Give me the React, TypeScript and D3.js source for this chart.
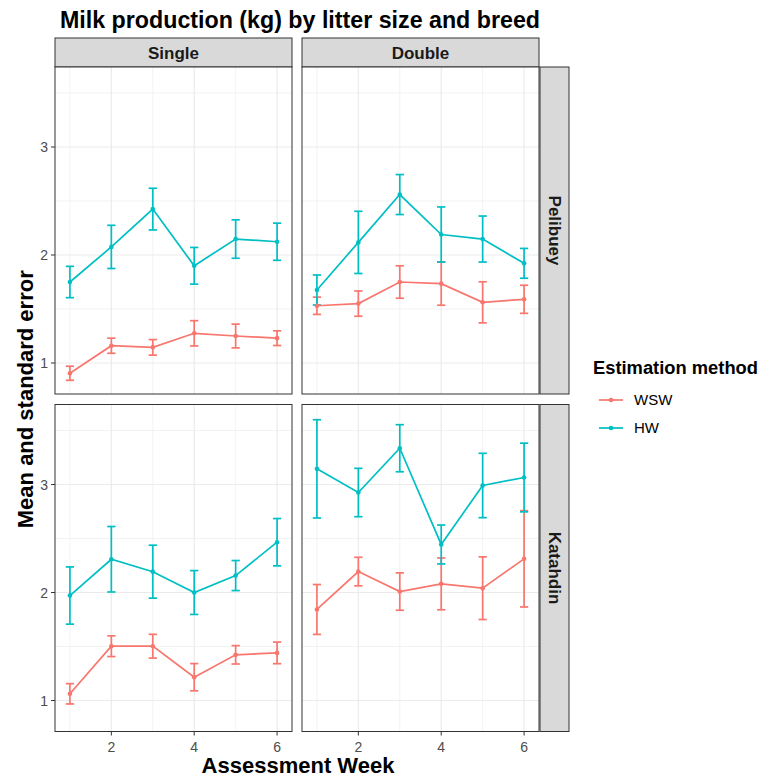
import React from "react";
import * as d3 from "d3";

const weeks = [1, 2, 3, 4, 5, 6];
const litters = ["Single", "Double"];
const breeds = ["Pelibuey", "Katahdin"];
const methods = ["WSW", "HW"];
const methodColors = ["#F8766D", "#00BFC4"];
const xTicks = [2, 4, 6];
const yTicks = [1, 2, 3];
const xMinor = [1, 3, 5];
const yMinor = [1.5, 2.5, 3.5];

const singlePelibueyWSWMean = [0.905, 1.16, 1.145, 1.275, 1.25, 1.23];
const singlePelibueyWSWSe = [0.065, 0.07, 0.072, 0.117, 0.11, 0.068];
const singlePelibueyHWMean = [1.75, 2.075, 2.425, 1.9, 2.148, 2.123];
const singlePelibueyHWSe = [0.145, 0.2, 0.193, 0.17, 0.178, 0.172];
const doublePelibueyWSWMean = [1.53, 1.55, 1.75, 1.735, 1.562, 1.59];
const doublePelibueyWSWSe = [0.08, 0.117, 0.15, 0.2, 0.19, 0.13];
const doublePelibueyHWMean = [1.676, 2.117, 2.56, 2.19, 2.148, 1.923];
const doublePelibueyHWSe = [0.139, 0.288, 0.185, 0.255, 0.213, 0.138];
const singleKatahdinWSWMean = [1.062, 1.503, 1.503, 1.216, 1.423, 1.441];
const singleKatahdinWSWSe = [0.094, 0.096, 0.11, 0.126, 0.085, 0.1];
const singleKatahdinHWMean = [1.972, 2.308, 2.193, 2.0, 2.157, 2.466];
const singleKatahdinHWSe = [0.265, 0.303, 0.245, 0.203, 0.139, 0.219];
const doubleKatahdinWSWMean = [1.843, 2.194, 2.009, 2.08, 2.04, 2.312];
const doubleKatahdinWSWSe = [0.231, 0.132, 0.173, 0.24, 0.29, 0.446];
const doubleKatahdinHWMean = [3.145, 2.926, 3.336, 2.445, 2.991, 3.065];
const doubleKatahdinHWSe = [0.455, 0.224, 0.218, 0.18, 0.298, 0.318];

// panel data: [breed][litter][method] -> {mean, se}
const panelData = [
  [
    [
      { mean: singlePelibueyWSWMean, se: singlePelibueyWSWSe },
      { mean: singlePelibueyHWMean, se: singlePelibueyHWSe },
    ],
    [
      { mean: doublePelibueyWSWMean, se: doublePelibueyWSWSe },
      { mean: doublePelibueyHWMean, se: doublePelibueyHWSe },
    ],
  ],
  [
    [
      { mean: singleKatahdinWSWMean, se: singleKatahdinWSWSe },
      { mean: singleKatahdinHWMean, se: singleKatahdinHWSe },
    ],
    [
      { mean: doubleKatahdinWSWMean, se: doubleKatahdinWSWSe },
      { mean: doubleKatahdinHWMean, se: doubleKatahdinHWSe },
    ],
  ],
];

const W = 762;
const H = 778;
const colX = [55, 302];
const panelW = 237;
const rowY = [67, 404.5];
const panelH = 327;
const FONT = "'Liberation Sans', Arial, sans-serif";

const xScale = d3.scaleLinear().domain([0.64, 6.36]).range([0, panelW]);
const yScale = d3.scaleLinear().domain([0.713, 3.741]).range([panelH, 0]);

function Panel({ r, c }: { r: number; c: number }) {
  const x0 = colX[c];
  const y0 = rowY[r];
  const line = d3
    .line<number>()
    .x((_, i) => xScale(weeks[i]))
    .y((d) => yScale(d));
  const capHalf = xScale(1.1) - xScale(1);
  return (
    <g transform={`translate(${x0},${y0})`}>
      <rect x={0} y={0} width={panelW} height={panelH} fill="#FFFFFF" />
      {xMinor.map((v) => (
        <line key={"xm" + v} x1={xScale(v)} x2={xScale(v)} y1={0} y2={panelH} stroke="#EBEBEB" strokeWidth={0.6} />
      ))}
      {yMinor.map((v) => (
        <line key={"ym" + v} x1={0} x2={panelW} y1={yScale(v)} y2={yScale(v)} stroke="#EBEBEB" strokeWidth={0.6} />
      ))}
      {xTicks.map((v) => (
        <line key={"xM" + v} x1={xScale(v)} x2={xScale(v)} y1={0} y2={panelH} stroke="#EBEBEB" strokeWidth={1.2} />
      ))}
      {yTicks.map((v) => (
        <line key={"yM" + v} x1={0} x2={panelW} y1={yScale(v)} y2={yScale(v)} stroke="#EBEBEB" strokeWidth={1.2} />
      ))}
      {methods.map((m, mi) => {
        const s = panelData[r][c][mi];
        const col = methodColors[mi];
        return (
          <g key={m}>
            {weeks.map((w, i) => {
              const cx = xScale(w);
              const yt = yScale(s.mean[i] + s.se[i]);
              const yb = yScale(s.mean[i] - s.se[i]);
              return (
                <g key={w} stroke={col} strokeWidth={1.7} fill="none">
                  <line x1={cx} x2={cx} y1={yt} y2={yb} />
                  <line x1={cx - capHalf} x2={cx + capHalf} y1={yt} y2={yt} />
                  <line x1={cx - capHalf} x2={cx + capHalf} y1={yb} y2={yb} />
                </g>
              );
            })}
          </g>
        );
      })}
      {methods.map((m, mi) => {
        const s = panelData[r][c][mi];
        const col = methodColors[mi];
        return (
          <g key={"l" + m}>
            <path d={line(s.mean) || ""} stroke={col} strokeWidth={1.7} fill="none" />
            {weeks.map((w, i) => (
              <circle key={w} cx={xScale(w)} cy={yScale(s.mean[i])} r={2.3} fill={col} />
            ))}
          </g>
        );
      })}
      <rect x={0} y={0} width={panelW} height={panelH} fill="none" stroke="#333333" strokeWidth={1} />
    </g>
  );
}

export default function App() {
  const stripTop = 38;
  const stripRight = 540;
  const stripW = 29;
  return (
    <svg width={W} height={H} style={{ display: "block", position: "absolute", left: 0, top: 0 }} fontFamily={FONT}>
      <rect x={0} y={0} width={W} height={H} fill="#FFFFFF" />
      <text x={60} y={28} fontSize={23} fontWeight="bold" fill="#000000" textLength={480} lengthAdjust="spacingAndGlyphs">
        Milk production (kg) by litter size and breed
      </text>
      {litters.map((l, c) => (
        <g key={l}>
          <rect x={colX[c]} y={stripTop} width={panelW} height={rowY[0] - stripTop} fill="#D9D9D9" stroke="#333333" strokeWidth={1} />
          <text x={colX[c] + panelW / 2} y={58.5} textAnchor="middle" fontSize={17} fontWeight="bold" fill="#1A1A1A">
            {l}
          </text>
        </g>
      ))}
      {breeds.map((b, r) => (
        <g key={b}>
          <rect x={stripRight} y={rowY[r]} width={stripW} height={panelH} fill="#D9D9D9" stroke="#333333" strokeWidth={1} />
          <text
            transform={`translate(${stripRight + stripW / 2 - 6},${rowY[r] + panelH / 2}) rotate(90)`}
            textAnchor="middle"
            fontSize={17}
            fontWeight="bold"
            fill="#1A1A1A"
          >
            {b}
          </text>
        </g>
      ))}
      {breeds.map((b, r) =>
        litters.map((l, c) => <Panel key={b + l} r={r} c={c} />)
      )}
      {rowY.map((y0, r) => (
        <g key={"ya" + r}>
          {yTicks.map((v) => (
            <g key={v}>
              <line x1={colX[0] - 4} x2={colX[0]} y1={y0 + yScale(v)} y2={y0 + yScale(v)} stroke="#333333" strokeWidth={1} />
              <text x={colX[0] - 7} y={y0 + yScale(v) + 5} textAnchor="end" fontSize={14} fill="#4D4D4D">
                {v}
              </text>
            </g>
          ))}
        </g>
      ))}
      {colX.map((x0, c) => (
        <g key={"xa" + c}>
          {xTicks.map((v) => (
            <g key={v}>
              <line x1={x0 + xScale(v)} x2={x0 + xScale(v)} y1={rowY[1] + panelH} y2={rowY[1] + panelH + 4} stroke="#333333" strokeWidth={1} />
              <text x={x0 + xScale(v)} y={rowY[1] + panelH + 20} textAnchor="middle" fontSize={14} fill="#4D4D4D">
                {v}
              </text>
            </g>
          ))}
        </g>
      ))}
      <text x={298} y={773} textAnchor="middle" fontSize={22} fontWeight="bold" fill="#000000">
        Assessment Week
      </text>
      <text transform={`translate(33,${(rowY[0] + rowY[1] + panelH) / 2}) rotate(-90)`} textAnchor="middle" fontSize={22} fontWeight="bold" fill="#000000">
        Mean and standard error
      </text>
      <text x={593} y={374} fontSize={18} fontWeight="bold" fill="#000000" textLength={165} lengthAdjust="spacingAndGlyphs">
        Estimation method
      </text>
      {methods.map((m, mi) => {
        const cy = 400 + mi * 28;
        return (
          <g key={"lg" + m}>
            <line x1={599} x2={623} y1={cy} y2={cy} stroke={methodColors[mi]} strokeWidth={1.7} />
            <circle cx={611} cy={cy} r={2.3} fill={methodColors[mi]} />
            <text x={634} y={cy + 5} fontSize={15} fill="#000000">
              {m}
            </text>
          </g>
        );
      })}
    </svg>
  );
}
